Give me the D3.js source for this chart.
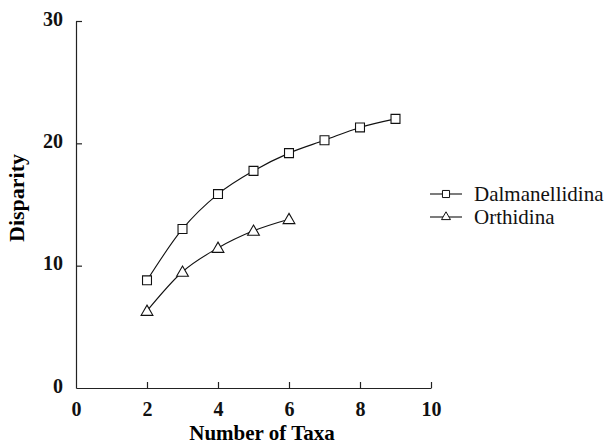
<!DOCTYPE html>
<meta charset="utf-8">
<style>
body { margin: 0; background: #fff; }
.axis path, .axis line { stroke: #222; stroke-width: 1.2; }
.series { fill: none; stroke: #111; stroke-width: 1.1; }
</style>
<script src="https://d3js.org/d3.v7.min.js"></script>
<div id="chart"></div>
<script>
// data
var taxa = [2, 3, 4, 5, 6, 7, 8, 9];
var dalmanellidina = [8.8, 13.0, 15.85, 17.75, 19.2, 20.25, 21.3, 22.0];
var orthidina = [6.3, 9.5, 11.45, 12.85, 13.8];
var xTicks = [0, 2, 4, 6, 8, 10];
var yTicks = [0, 10, 20, 30];

var serif = "'Liberation Serif', 'DejaVu Serif', 'Times New Roman', Times, serif";
var width = 612, height = 444;
var margin = {top: 21, right: 181, bottom: 56, left: 76};

var svg = d3.select("#chart").append("svg")
  .attr("width", width)
  .attr("height", height);

var x = d3.scaleLinear().domain([0, 10]).range([margin.left, width - margin.right]);
var y = d3.scaleLinear().domain([0, 30]).range([height - margin.bottom, margin.top]);

// axes, ticks pointing inward
var xAxis = svg.append("g")
  .attr("class", "axis")
  .attr("transform", "translate(0," + y(0) + ")")
  .call(d3.axisBottom(x).tickValues(xTicks).tickSize(-6).tickSizeOuter(0).tickPadding(14));
xAxis.selectAll(".tick").filter(function(d) { return d === 0; }).select("line").remove();

var yAxis = svg.append("g")
  .attr("class", "axis")
  .attr("transform", "translate(" + x(0) + ",0)")
  .call(d3.axisLeft(y).tickValues(yTicks).tickSize(-6).tickSizeOuter(0).tickPadding(13));
yAxis.selectAll(".tick").filter(function(d) { return d === 0; }).select("line").remove();
yAxis.selectAll(".tick text").attr("dy", "0.2em");

svg.selectAll(".axis").attr("font-family", serif).attr("font-size", 20).attr("font-weight", "bold");
svg.selectAll(".axis text").attr("fill", "#111");

// axis titles
svg.append("text")
  .attr("x", 262)
  .attr("y", 440)
  .attr("text-anchor", "middle")
  .attr("font-family", serif).attr("font-size", 21).attr("font-weight", "bold")
  .text("Number of Taxa");

svg.append("text")
  .attr("transform", "translate(24,198) rotate(-90)")
  .attr("text-anchor", "middle")
  .attr("font-family", serif).attr("font-size", 22).attr("font-weight", "bold")
  .text("Disparity");

var line = d3.line()
  .x(function(d) { return x(d[0]); })
  .y(function(d) { return y(d[1]); })
  .curve(d3.curveMonotoneX);

var dalPts = taxa.map(function(t, i) { return [t, dalmanellidina[i]]; });
var ortPts = orthidina.map(function(v, i) { return [taxa[i], v]; });

svg.append("path").attr("class", "series").attr("d", line(dalPts));
svg.append("path").attr("class", "series").attr("d", line(ortPts));

var square = d3.symbol().type(d3.symbolSquare).size(80);
var triangle = d3.symbol().type(d3.symbolTriangle).size(60);

svg.selectAll(".sq").data(dalPts).enter().append("path")
  .attr("transform", function(d) { return "translate(" + x(d[0]) + "," + y(d[1]) + ")"; })
  .attr("d", square)
  .attr("fill", "#fff").attr("stroke", "#111").attr("stroke-width", 1.1);

svg.selectAll(".tr").data(ortPts).enter().append("path")
  .attr("transform", function(d) { return "translate(" + x(d[0]) + "," + (y(d[1]) + 1) + ")"; })
  .attr("d", triangle)
  .attr("fill", "#fff").attr("stroke", "#111").attr("stroke-width", 1.1);

// legend
var legend = svg.append("g");
var entries = [
  {name: "Dalmanellidina", type: d3.symbolSquare, size: 50, y: 194},
  {name: "Orthidina", type: d3.symbolTriangle, size: 35, y: 217}
];
entries.forEach(function(e) {
  legend.append("line")
    .attr("x1", 430).attr("x2", 462)
    .attr("y1", e.y).attr("y2", e.y)
    .attr("stroke", "#111").attr("stroke-width", 1.1);
  legend.append("path")
    .attr("transform", "translate(446," + e.y + ")")
    .attr("d", d3.symbol().type(e.type).size(e.size))
    .attr("fill", "#fff").attr("stroke", "#111").attr("stroke-width", 1);
  legend.append("text")
    .attr("x", 474)
    .attr("y", e.y)
    .attr("dy", "0.32em")
    .attr("font-family", serif).attr("font-size", 21).attr("fill", "#111")
    .text(e.name);
});
</script>
